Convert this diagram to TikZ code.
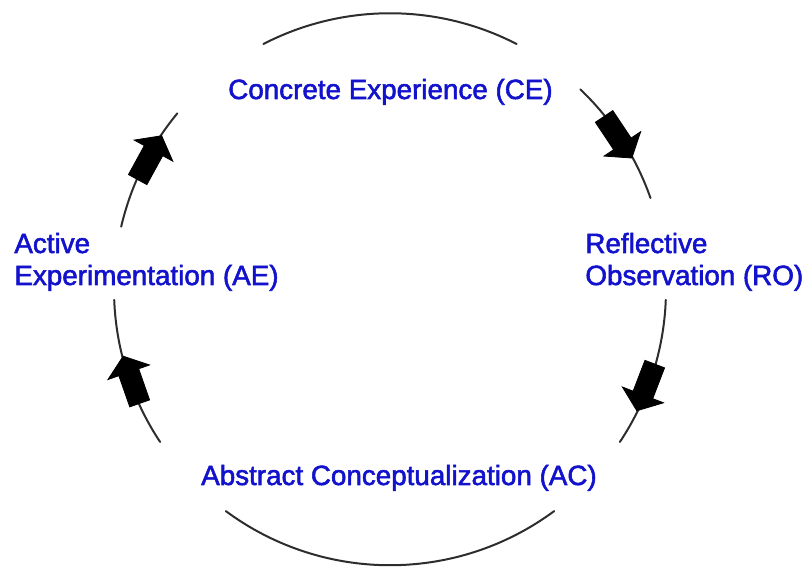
\documentclass[tikz,border=0pt]{standalone}
\usepackage{fontspec}
\setmainfont{Liberation Sans}
\newfontfamily\stagefont[FakeBold=2]{Liberation Sans}
\definecolor{stageblue}{RGB}{18,18,205}
\definecolor{ringgray}{RGB}{45,45,45}
\tikzset{ring/.style={draw=ringgray,line width=1pt,line cap=round},
  stage/.style={text=stageblue,font=\stagefont\fontsize{13.9}{16}\selectfont,inner sep=0pt,align=left},
  flow/.style={fill=black,draw=black,line width=0.4pt,line join=miter}}

\begin{document}
\begin{tikzpicture}[x=0.5pt,y=0.5pt]
  \useasboundingbox (0,0) rectangle (809,567);
  \coordinate (hub) at (390,277.75);
  \node[stage,anchor=base] (ce) at (390.5,468) {Concrete Experience (CE)};
  \node[stage,anchor=base] (ac) at (399,82) {Abstract Conceptualization (AC)};
  \node[stage,anchor=base west] (ro) at (585,282) {Reflective\\Observation (RO)};
  \node[stage,anchor=base west] (ae) at (14,282) {Active\\Experimentation (AE)};
  \begin{scope}[shift={(hub)}]
    \foreach \a/\b in {62.7/117.3,46.4/19.3,-2.2/-33.6,-53.5/-126.5,-146.4/-177.8,166.9/140.4}
      \draw[ring] (\a:276) arc[start angle=\a,end angle=\b,radius=276];
    \foreach \t in {33.7,-21,-160.7,151.3}
      \draw[flow,shift={(\t:274)},rotate=\t-90]
        (-25,-10.5) -- (8,-10.5) -- (8,-22) -- (25,0) -- (8,22) -- (8,10.5) -- (-25,10.5) -- cycle;
  \end{scope}
\end{tikzpicture}
\end{document}
